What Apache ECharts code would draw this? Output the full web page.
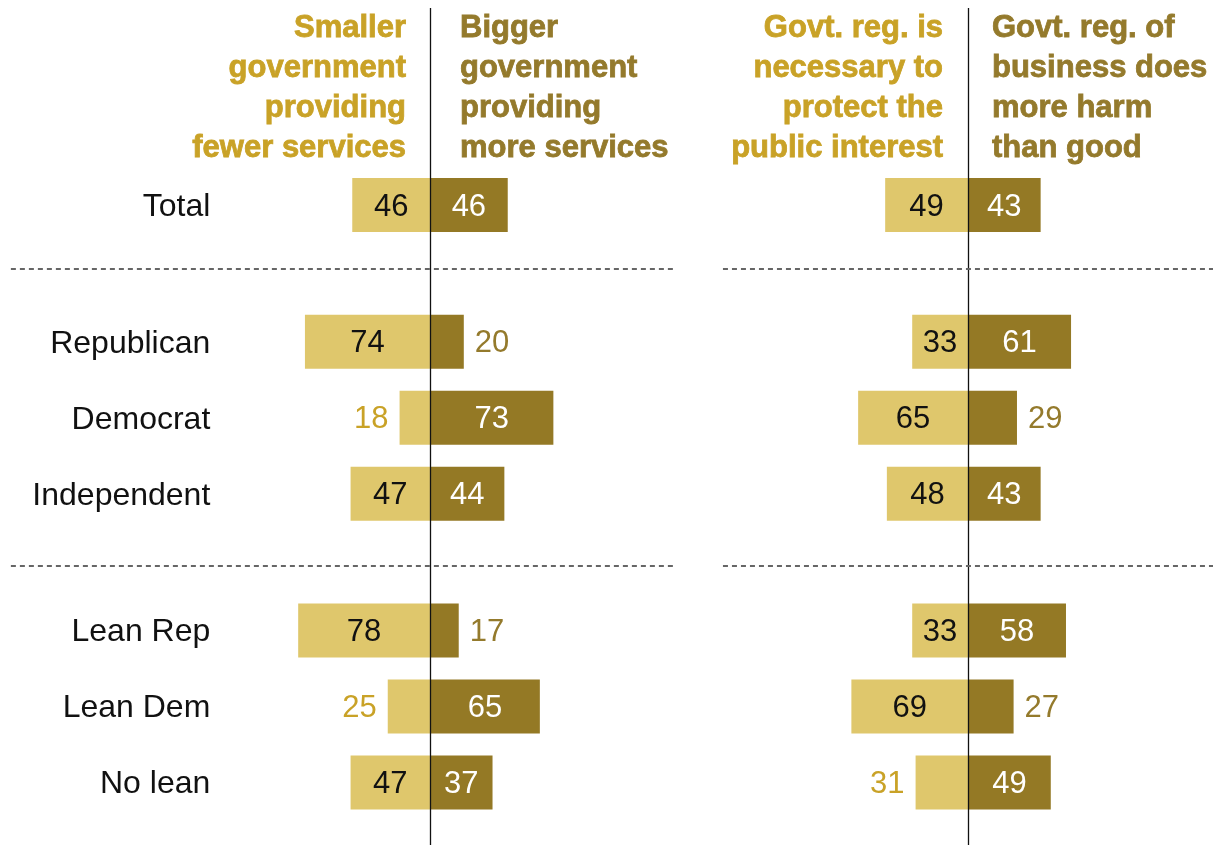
<!DOCTYPE html>
<html>
<head>
<meta charset="utf-8">
<script src="https://cdn.jsdelivr.net/npm/echarts@6/dist/echarts.min.js"></script>
<style>html,body{margin:0;padding:0;background:#fff}#c{width:1213px;height:845px}</style>
</head>
<body>
<div id="c"></div>
<script>
// ---- data ----
const categories = ['Total', 'Republican', 'Democrat', 'Independent', 'Lean Rep', 'Lean Dem', 'No lean'];
const rowPos = [0, 1.8, 2.8, 3.8, 5.6, 6.6, 7.6];
const separators = [0.84, 4.75];
const smallerGov = [46, 74, 18, 47, 78, 25, 47];
const biggerGov = [46, 20, 73, 44, 17, 65, 37];
const regNecessary = [49, 33, 65, 48, 33, 69, 31];
const regHarm = [43, 61, 29, 43, 58, 27, 49];
const headersLeft = ['Smaller\ngovernment\nproviding\nfewer services', 'Bigger\ngovernment\nproviding\nmore services'];
const headersRight = ['Govt. reg. is\nnecessary to\nprotect the\npublic interest', 'Govt. reg. of\nbusiness does\nmore harm\nthan good'];

// ---- style ----
const LIGHT = '#dfc76c', DARK = '#947925';
const LIGHT_TXT = '#c9a227', DARK_TXT = '#947a2c';
const FONT = '"Liberation Sans", Arial, sans-serif';
const VAL_SIZE = 31, CAT_SIZE = 32;
const BAR_H = 54;
const INSIDE_MIN = 32;

function rows(a, b) {
  return categories.map((c, i) => [rowPos[i], a[i], b[i], c]);
}

function makeRender(showCats) {
  return function (params, api) {
    const y = api.value(0), lv = api.value(1), rv = api.value(2);
    const p0 = api.coord([0, y]);
    const pl = api.coord([-lv, y]);
    const pr = api.coord([rv, y]);
    const top = p0[1] - BAR_H / 2;
    const ty = p0[1] + 2;
    const ch = [
      { type: 'rect', shape: { x: pl[0], y: top, width: p0[0] - pl[0], height: BAR_H }, style: { fill: LIGHT } },
      { type: 'rect', shape: { x: p0[0], y: top, width: pr[0] - p0[0], height: BAR_H }, style: { fill: DARK } }
    ];
    const lin = lv >= INSIDE_MIN, rin = rv >= INSIDE_MIN;
    ch.push({ type: 'text', style: {
      text: String(lv), x: lin ? (pl[0] + p0[0]) / 2 : pl[0] - 11, y: ty,
      align: lin ? 'center' : 'right', verticalAlign: 'middle',
      fill: lin ? '#111' : LIGHT_TXT, font: VAL_SIZE + 'px ' + FONT } });
    ch.push({ type: 'text', style: {
      text: String(rv), x: rin ? (pr[0] + p0[0]) / 2 : pr[0] + 11, y: ty,
      align: rin ? 'center' : 'left', verticalAlign: 'middle',
      fill: rin ? '#fff' : DARK_TXT, font: VAL_SIZE + 'px ' + FONT } });
    if (showCats) {
      const pc = api.coord([-130, y]);
      ch.push({ type: 'text', style: {
        text: api.value(3), x: pc[0], y: ty, align: 'right', verticalAlign: 'middle',
        fill: '#111', font: CAT_SIZE + 'px ' + FONT } });
    }
    return { type: 'group', children: ch };
  };
}

const Y_MIN = -2.592, Y_MAX = 8.421;
const K = 1.69;

function markLines() {
  return {
    silent: true, symbol: 'none', label: { show: false }, animation: false,
    data: [
      { xAxis: 0, lineStyle: { color: '#111', width: 1.3, type: 'solid' } },
      ...separators.map(s => ({ yAxis: s, lineStyle: { color: '#666', width: 2, type: [5, 4] } }))
    ]
  };
}

function headerText(lines, x, align, color) {
  return {
    type: 'text', x: x, y: 8,
    style: { text: lines, align: align, verticalAlign: 'top', fill: color,
      font: 'bold 31px ' + FONT, lineHeight: 40, stroke: color, lineWidth: 0.8 }
  };
}

const chart = echarts.init(document.getElementById('c'), null, { renderer: 'canvas' });
chart.setOption({
  animation: false,
  grid: [
    { left: 430 - 248 * K, width: 393 * K, top: 8, bottom: 0 },
    { left: 968 - 145 * K, width: 290 * K, top: 8, bottom: 0 }
  ],
  xAxis: [
    { gridIndex: 0, type: 'value', min: -248, max: 145, show: false },
    { gridIndex: 1, type: 'value', min: -145, max: 145, show: false }
  ],
  yAxis: [
    { gridIndex: 0, type: 'value', min: Y_MIN, max: Y_MAX, inverse: true, show: false },
    { gridIndex: 1, type: 'value', min: Y_MIN, max: Y_MAX, inverse: true, show: false }
  ],
  graphic: [
    headerText(headersLeft[0], 406, 'right', LIGHT_TXT),
    headerText(headersLeft[1], 460, 'left', DARK_TXT),
    headerText(headersRight[0], 943, 'right', LIGHT_TXT),
    headerText(headersRight[1], 992, 'left', DARK_TXT)
  ],
  series: [
    { type: 'custom', xAxisIndex: 0, yAxisIndex: 0, data: rows(smallerGov, biggerGov),
      renderItem: makeRender(true), markLine: markLines() },
    { type: 'custom', xAxisIndex: 1, yAxisIndex: 1, data: rows(regNecessary, regHarm),
      renderItem: makeRender(false), markLine: markLines() }
  ]
});
</script>
</body>
</html>
